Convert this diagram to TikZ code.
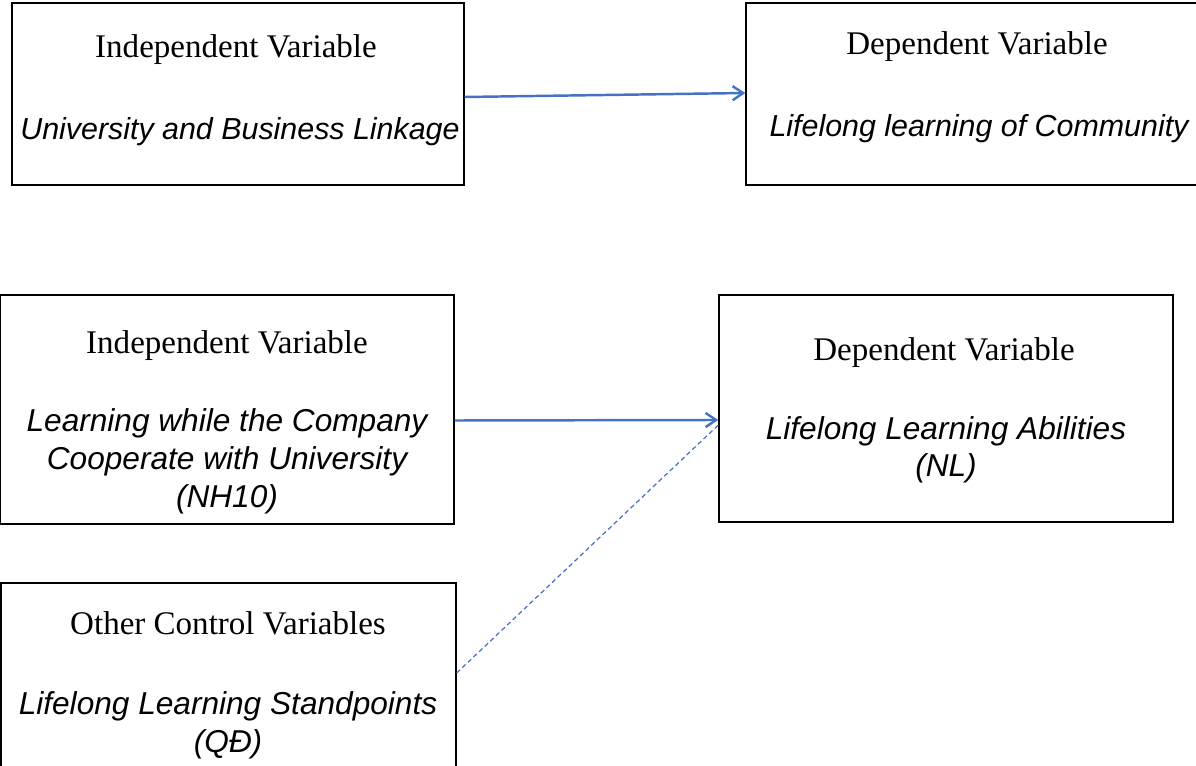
\documentclass[tikz,border=0pt]{standalone}
\usepackage{fontspec}
\setmainfont{Liberation Serif}
\newfontfamily\varfont{Liberation Sans}
\usetikzlibrary{arrows.meta}
\definecolor{linkblue}{HTML}{4472C4}

\begin{document}
\begin{tikzpicture}[x=0.02cm, y=-0.02cm,
  varbox/.style={draw, line width=0.8pt, inner sep=0pt},
  vartitle/.style={anchor=base, inner sep=0pt, font={\fontsize{18.8}{22}\selectfont}},
  varname/.style={anchor=base, inner sep=0pt, align=center, font={\fontsize{18}{21.6}\selectfont\varfont\itshape}},
  varnamesmall/.style={varname, font={\fontsize{17.3}{21.6}\selectfont\varfont\itshape}},
  link/.style={draw=linkblue, line width=1.4pt, -{Straight Barb[length=6pt, width=8pt]}},
  ctrl/.style={draw=linkblue, line width=0.7pt, dash pattern=on 2.6pt off 1.8pt}]
\useasboundingbox (0,0) rectangle (1196,766);

%% Upper model
\node[varbox, minimum width=9.04cm, minimum height=3.64cm] (iv1) at (238,94) {};
\node[vartitle] (iv1t) at (236,58) {Independent Variable};
\node[varnamesmall] (iv1n) at (240,140) {University and Business Linkage};

\node[varbox, minimum width=9.28cm, minimum height=3.64cm] (dv1) at (978,94) {};
\node[vartitle] (dv1t) at (977,55) {Dependent Variable};
\node[varnamesmall] (dv1n) at (979,137) {Lifelong learning of Community};

\draw[link] ([yshift=-0.06cm]iv1.east) -- ([yshift=0.02cm]dv1.west);

%% Lower model
\node[varbox, minimum width=9.08cm, minimum height=4.58cm] (iv2) at (227,409.5) {};
\node[vartitle] (iv2t) at (227,354) {Independent Variable};
% base of a multi-line node is its last line
\node[varname] (iv2n) at (227,507) {Learning while the Company\\Cooperate with University\\(NH10)};

\node[varbox, minimum width=9.08cm, minimum height=4.54cm] (dv2) at (946,408.5) {};
\node[vartitle] (dv2t) at (944,361) {Dependent Variable};
\node[varname] (dv2n) at (946,477) {Lifelong Learning Abilities\\(NL)};

% control variables
\node[varbox, minimum width=9.1cm, minimum height=3.74cm] (cv) at (228.5,676.5) {};
\node[vartitle] (cvt) at (228,634) {Other Control Variables};
\node[varname] (cvn) at (228,752) {Lifelong Learning Standpoints\\(QĐ)};

\draw[link] ([yshift=-0.22cm]iv2.east) -- ([yshift=-0.23cm]dv2.west);
\draw[ctrl] ([yshift=0.07cm]cv.east) -- ([yshift=-0.33cm]dv2.west);

\end{tikzpicture}
\end{document}
